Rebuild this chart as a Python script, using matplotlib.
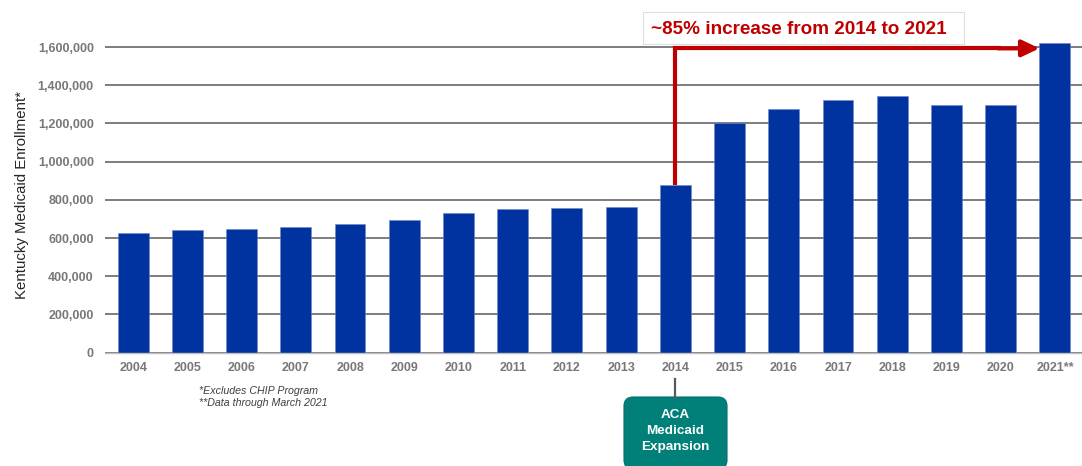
import matplotlib
matplotlib.use("Agg")
import matplotlib.pyplot as plt
from matplotlib.patches import FancyBboxPatch, Rectangle
from matplotlib.ticker import FuncFormatter

plt.rcParams['font.family'] = ['Liberation Sans', 'DejaVu Sans']

# Kentucky Medicaid enrollment by year (excludes CHIP)
years = ['2004', '2005', '2006', '2007', '2008', '2009', '2010', '2011', '2012',
         '2013', '2014', '2015', '2016', '2017', '2018', '2019', '2020', '2021**']
enrollment = [625000, 640000, 648000, 659000, 671000, 694000, 730000, 751000, 757000,
              762000, 877000, 1200000, 1274000, 1324000, 1343000, 1296000, 1296000, 1619000]
y_ticks = [0, 200000, 400000, 600000, 800000, 1000000, 1200000, 1400000, 1600000]

expansion_year = '2014'
latest_year = '2021**'
increase_label = '~85% increase from 2014 to 2021'
expansion_label = 'ACA\nMedicaid\nExpansion'
footnotes = '*Excludes CHIP Program\n**Data through March 2021'

BAR_BLUE = '#0033a0'
RED = '#c00000'
TEAL = '#008078'
GRAY_TXT = '#787878'

fig = plt.figure(figsize=(10.82, 4.66), dpi=100)
ax = fig.add_axes([0.097, 0.2433, 0.903, 0.6763])

x = list(range(len(years)))
bar_w = 0.57
ax.bar(x, enrollment, width=bar_w, color=BAR_BLUE, edgecolor='#6f86c6', linewidth=0.4, zorder=2)

ax.set_xlim(-0.52, len(years) - 0.5)
ax.set_ylim(0, 1650000)
ax.set_yticks(y_ticks)
ax.yaxis.set_major_formatter(FuncFormatter(lambda v, p: f'{int(v):,}'))
ax.set_xticks(x)
ax.set_xticklabels(years)
ax.grid(axis='y', color='#5a5a5a', linewidth=1.1)
ax.set_axisbelow(True)
for s in ['top', 'right', 'left']:
    ax.spines[s].set_visible(False)
ax.spines['bottom'].set_color('#bfbfbf')
ax.spines['bottom'].set_linewidth(1)
ax.tick_params(axis='both', length=0, labelsize=9, labelcolor=GRAY_TXT)
ax.tick_params(axis='x', pad=6.5)
ax.tick_params(axis='y', pad=8)
for lbl in ax.get_xticklabels() + ax.get_yticklabels():
    lbl.set_fontweight('bold')

ax.set_ylabel('Kentucky Medicaid Enrollment*', fontsize=10.8, color='#262626')
ax.yaxis.set_label_coords(-0.078, 0.5)

# red bracket arrow from the 2014 bar to the 2021 bar
i0 = years.index(expansion_year)
i1 = years.index(latest_year)
arrow_level = 1593000
ax.plot([i0, i0, i1 - 1.0], [enrollment[i0], arrow_level, arrow_level], color=RED,
        linewidth=3, solid_joinstyle='miter', solid_capstyle='butt', clip_on=False, zorder=4)
ax.annotate('', xy=(i1 - bar_w / 2, arrow_level), xytext=(i1 - 1.05, arrow_level),
            arrowprops=dict(arrowstyle='-|>,head_length=1.05,head_width=0.5', color=RED,
                            lw=3, shrinkA=0, shrinkB=0),
            annotation_clip=False, zorder=4)

# overlay in pixel units for the callout boxes
ov = fig.add_axes([0, 0, 1, 1], zorder=5)
ov.set_xlim(0, 1082)
ov.set_ylim(466, 0)
ov.axis('off')
ov.patch.set_alpha(0)

ov.add_patch(Rectangle((643, 12), 321, 32, facecolor='white', edgecolor='#dedede', linewidth=0.8))
ov.text(651, 29, increase_label, color=RED, fontsize=13.6, fontweight='bold', va='center', ha='left')

ov.plot([675, 675], [379, 398], color='#595959', linewidth=1.6)
ov.add_patch(FancyBboxPatch((624, 397), 103, 72, boxstyle='round,pad=0,rounding_size=9',
                            facecolor=TEAL, edgecolor='#00706a', linewidth=0.8))
ov.text(675.5, 431, expansion_label, color='white', fontsize=9.7, fontweight='bold',
        ha='center', va='center', linespacing=1.45)

ov.text(199, 397, footnotes, fontsize=7.7, style='italic', color='#404040',
        ha='left', va='center', linespacing=1.3)

fig.savefig('out.png', dpi=100)
